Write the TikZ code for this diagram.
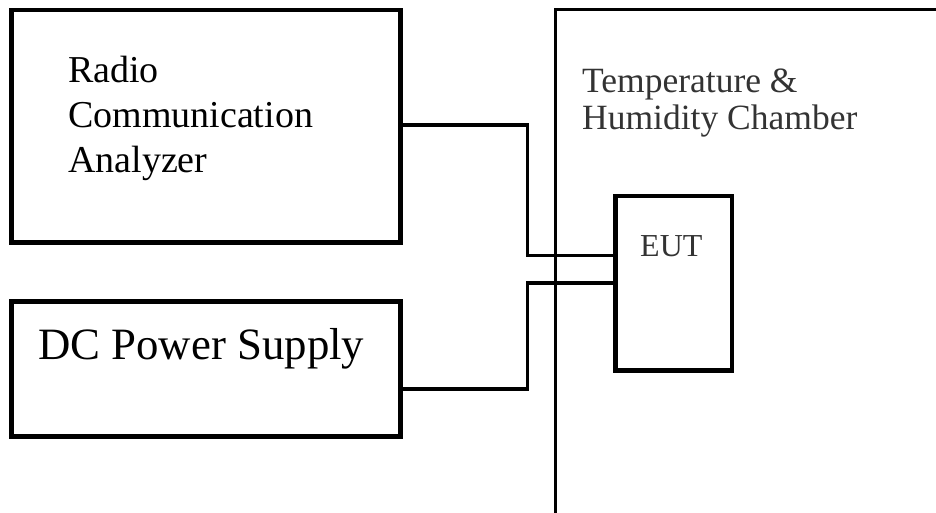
\documentclass[tikz,border=0pt]{standalone}
\usepackage{fontspec}
\setmainfont{Liberation Serif}
\begin{document}
\begin{tikzpicture}[x=1pt,y=-1pt,
  box/.style={draw=black,line width=4.2pt,rectangle,inner sep=0pt,outer sep=0pt,anchor=north west},
  wire/.style={draw=black,line width=3.2pt},
  lbl/.style={anchor=base west,inner sep=0pt,align=left}]
\useasboundingbox (0,0) rectangle (936,513);
% boxes
\node[box,minimum width=389pt,minimum height=232.5pt] (rca) at (11.5,10) {};
\node[box,minimum width=389pt,minimum height=135pt] (dc) at (11.5,301.5) {};
\node[box,minimum width=116.5pt,minimum height=174.5pt] (eut) at (615.5,196) {};
% chamber
\coordinate (chbot) at (555.5,513);
\coordinate (chtop) at (555.5,9.5);
\coordinate (chright) at (936,9.5);
\draw[black,line width=3.8pt] (chbot) -- (chtop) -- (chright);
% labels (base = baseline of last line)
\node[lbl,font=\fontsize{38}{44.5}\selectfont] (rcat) at (68,172) {Radio\\Communication\\Analyzer};
\node[lbl,font=\fontsize{44.8}{50}\selectfont] (dct) at (38,359) {DC Power Supply};
\node[lbl,font=\fontsize{35.5}{37}\selectfont,text=black!80] (cht) at (582,130) {Temperature \&\\Humidity Chamber};
\node[lbl,font=\fontsize{32}{36}\selectfont,text=black!80] (eutt) at (640,256) {EUT};
% connectors
\coordinate (k1) at (527.5,125);
\coordinate (k2) at (527.5,255.5);
\coordinate (k3) at (527.5,283);
\coordinate (k4) at (527.5,389);
\draw[wire] (rca.east |- k1) -- (k1) -- (k2) -- (eut.west |- k2);
\draw[wire] (dc.east |- k4) -- (k4) -- (k3) -- (eut.west |- k3);
\end{tikzpicture}
\end{document}
